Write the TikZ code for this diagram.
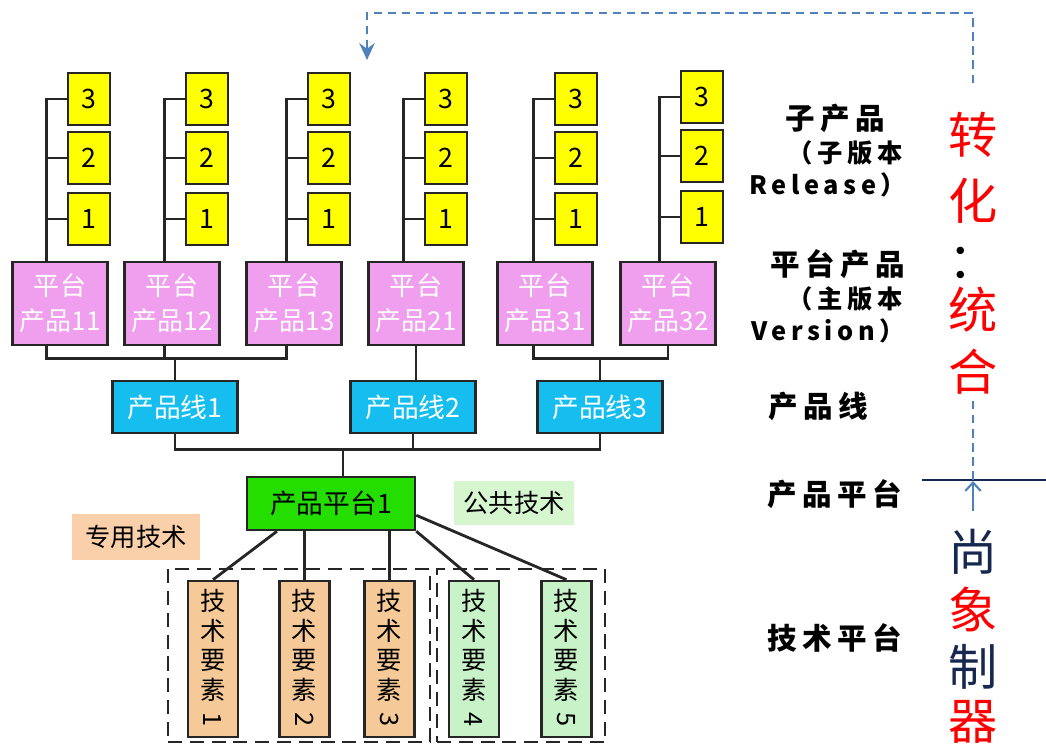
\documentclass[tikz,border=0pt]{standalone}
\usepackage{fontspec}
\usepackage{graphicx}
\setmainfont{Noto Sans CJK SC}
\newfontfamily\lblfont[LetterSpace=18]{Noto Sans CJK SC}
\usetikzlibrary{arrows.meta,calc}
\definecolor{edgegray}{RGB}{38,38,38}
\definecolor{relyellow}{RGB}{255,255,0}
\definecolor{platpink}{RGB}{240,158,238}
\definecolor{lineblue}{RGB}{22,190,240}
\definecolor{pfgreen}{RGB}{36,222,0}
\definecolor{owntan}{RGB}{246,202,152}
\definecolor{sharegreen}{RGB}{200,242,200}
\definecolor{owntag}{RGB}{250,208,170}
\definecolor{sharetag}{RGB}{214,246,208}
\definecolor{fbblue}{RGB}{79,129,189}
\definecolor{navy}{RGB}{22,40,80}

\begin{document}
\begin{tikzpicture}[x=0.025cm, y=-0.025cm,
    box/.style={rectangle, draw=edgegray, line width=1.8pt, inner sep=0pt, align=center},
    relbox/.style={box, fill=relyellow, minimum width=1.05cm, minimum height=1.3cm,
                   font=\fontsize{19}{20}\selectfont},
    platbox/.style={box, fill=platpink, minimum width=2.375cm, minimum height=2.075cm,
                    text=white, font=\fontsize{18.5}{25}\selectfont},
    linebox/.style={box, fill=lineblue, minimum width=3.125cm, minimum height=1.3cm,
                    text=white, font=\fontsize{19}{20}\selectfont},
    pfbox/.style={box, fill=pfgreen, minimum width=4.2cm, minimum height=1.325cm,
                  font=\fontsize{19}{20}\selectfont},
    techbox/.style={box, minimum width=1.25cm, minimum height=3.9cm,
                    font=\fontsize{18}{21}\selectfont},
    tagbox/.style={rectangle, inner sep=0pt, font=\fontsize{18}{20}\selectfont},
    grpbox/.style={rectangle, draw=edgegray, line width=2pt,
                   dash pattern=on 10pt off 5.5pt, minimum height=4.325cm},
    lbl/.style={font=\lblfont\bfseries\fontsize{21}{22}\selectfont},
    sublbl/.style={font=\lblfont\bfseries\fontsize{18}{20}\selectfont},
    bigchar/.style={font=\fontsize{35}{36}\selectfont, inner sep=0pt},
    wire/.style={draw=edgegray, line width=2pt},
    fbdash/.style={draw=fbblue, line width=1.5pt, dash pattern=on 6pt off 4pt},
    uparr/.style={draw=fbblue, line width=1.5pt, -{Straight Barb[length=6pt,width=11pt]}}]

\useasboundingbox (0,0) rectangle (1046,747);

% sub-product releases
\foreach \pp/\xx/\yy in {11/89/99, 12/207/99, 13/329/99, 21/446/99, 31/576/99, 32/702/97} {
    \node[relbox] (rel\pp-c) at (\xx,\yy)     {3};
    \node[relbox] (rel\pp-b) at (\xx,\yy+59)  {2};
    \node[relbox] (rel\pp-a) at (\xx,\yy+120) {1};
}

% platform products
\node[platbox] (plat11) at (60,303.5)  {平台\\产品11};
\node[platbox] (plat12) at (172,303.5) {平台\\产品12};
\node[platbox] (plat13) at (294,303.5) {平台\\产品13};
\node[platbox] (plat21) at (416,303.5) {平台\\产品21};
\node[platbox] (plat31) at (545,303.5) {平台\\产品31};
\node[platbox] (plat32) at (668,303.5) {平台\\产品32};

\foreach \pp in {11,12,13,21,31,32} {
    \draw[wire] (rel\pp-c.west) -- ++(-20,0) coordinate (sp\pp) -- (sp\pp |- plat\pp.north);
    \draw[wire] (rel\pp-b.west) -- (rel\pp-b.west -| sp\pp);
    \draw[wire] (rel\pp-a.west) -- (rel\pp-a.west -| sp\pp);
}

% product lines
\node[linebox] (line1) at (175,407) {产品线1};
\node[linebox] (line2) at (413,407) {产品线2};
\node[linebox] (line3) at (600,407) {产品线3};

\draw[wire] (sp11 |- plat11.south) -- ++(0,12) coordinate (busa) -| (sp13 |- plat13.south);
\draw[wire] (sp12 |- plat12.south) -- (sp12 |- busa);
\draw[wire] (busa -| line1.north) -- (line1.north);
\draw[wire] (plat21.south) -- (plat21.south |- line2.north);
\draw[wire] (sp31 |- plat31.south) -- ++(0,12) coordinate (busc) -| (plat32.south);
\draw[wire] (busc -| line3.north) -- (line3.north);

% product platform
\node[pfbox] (pf) at (331,503.5) {产品平台1};

\draw[wire] (line1.south) -- ++(0,15) coordinate (busb) -| (line3.south);
\draw[wire] (line2.south) -- (line2.south |- busb);
\draw[wire] ($(pf.north)+(12,0)$) -- ($(pf.north |- busb)+(12,0)$);

% technology elements
\node[tagbox, fill=owntag, minimum width=3.2cm, minimum height=1.125cm] (owntag) at (136,537) {专用技术};
\node[tagbox, fill=sharetag, minimum width=2.975cm, minimum height=1.075cm] (sharetag) at (514,503) {公共技术};

\node[grpbox, minimum width=6.55cm] (grpown)   at (299,655.5) {};
\node[grpbox, minimum width=4.2cm]  (grpshare) at (521,655.5) {};

\node[techbox, fill=owntan] (tech1) at (213,659)     {技\\术\\要\\素\\\rotatebox[origin=c]{-90}{1}};
\node[techbox, fill=owntan] (tech2) at (304.5,659)   {技\\术\\要\\素\\\rotatebox[origin=c]{-90}{2}};
\node[techbox, fill=owntan] (tech3) at (389.5,659)   {技\\术\\要\\素\\\rotatebox[origin=c]{-90}{3}};
\node[techbox, fill=sharegreen] (tech4) at (474,659) {技\\术\\要\\素\\\rotatebox[origin=c]{-90}{4}};
\node[techbox, fill=sharegreen] (tech5) at (566.5,659) {技\\术\\要\\素\\\rotatebox[origin=c]{-90}{5}};

\draw[wire] ($(pf.south)+(-54,0)$) -- (tech1.north);
\draw[wire] (tech2.north |- pf.south) -- (tech2.north);
\draw[wire] (tech3.north |- pf.south) -- (tech3.north);
\draw[wire] (pf.south east) -- (tech4.north);
\draw[wire] ($(pf.south east)+(0,-16)$) -- (tech5.north);

% level labels
\node[lbl]    (sublbl)  at (835,118) {子产品};
\node[sublbl] (subver)  at (845,153) {（子版本};
\node[sublbl] (subrel)  at (828,185) {Release）};
\node[lbl]    (platlbl) at (838,264) {平台产品};
\node[sublbl] (platver) at (845,299) {（主版本};
\node[sublbl] (platrel) at (828,331) {Version）};
\node[lbl]    (linelbl) at (818,406) {产品线};
\node[lbl]    (pflbl)   at (835,494) {产品平台};
\node[lbl]    (tplbl)   at (835,638) {技术平台};

% transformation: integration
\node[bigchar, text=red] (zhuan) at (973,135) {转};
\node[bigchar, text=red] (hua)   at (973,201) {化};
\node[bigchar]           (colon) at (973,263) {：};
\node[bigchar, text=red] (tong)  at (973,310) {统};
\node[bigchar, text=red] (he)    at (973,372) {合};

\node[bigchar, text=navy] (shang) at (973,552) {尚};
\node[bigchar, text=red]  (xiang) at (973,609) {象};
\node[bigchar, text=navy] (zhi)   at (973,667) {制};
\node[bigchar, text=red]  (qi)    at (973,722) {器};

\coordinate (fbstart) at (973,83);
\coordinate (fbend)   at (367,60);
\draw[fbdash, -{Stealth[length=12pt,width=11pt,inset=4pt]}] (fbstart) -- ++(0,-70) -| (fbend);

\coordinate (cutl) at (922,480);
\coordinate (cutr) at (1046,480);
\coordinate (hit)  at (973,481);
\draw[draw=navy, line width=1.6pt] (cutl) -- (cutr);
\draw[fbdash] ($(he.south)+(0,6)$) -- (hit);
\draw[uparr] ($(shang.north)+(0,-18)$) -- (hit);

\end{tikzpicture}
\end{document}
